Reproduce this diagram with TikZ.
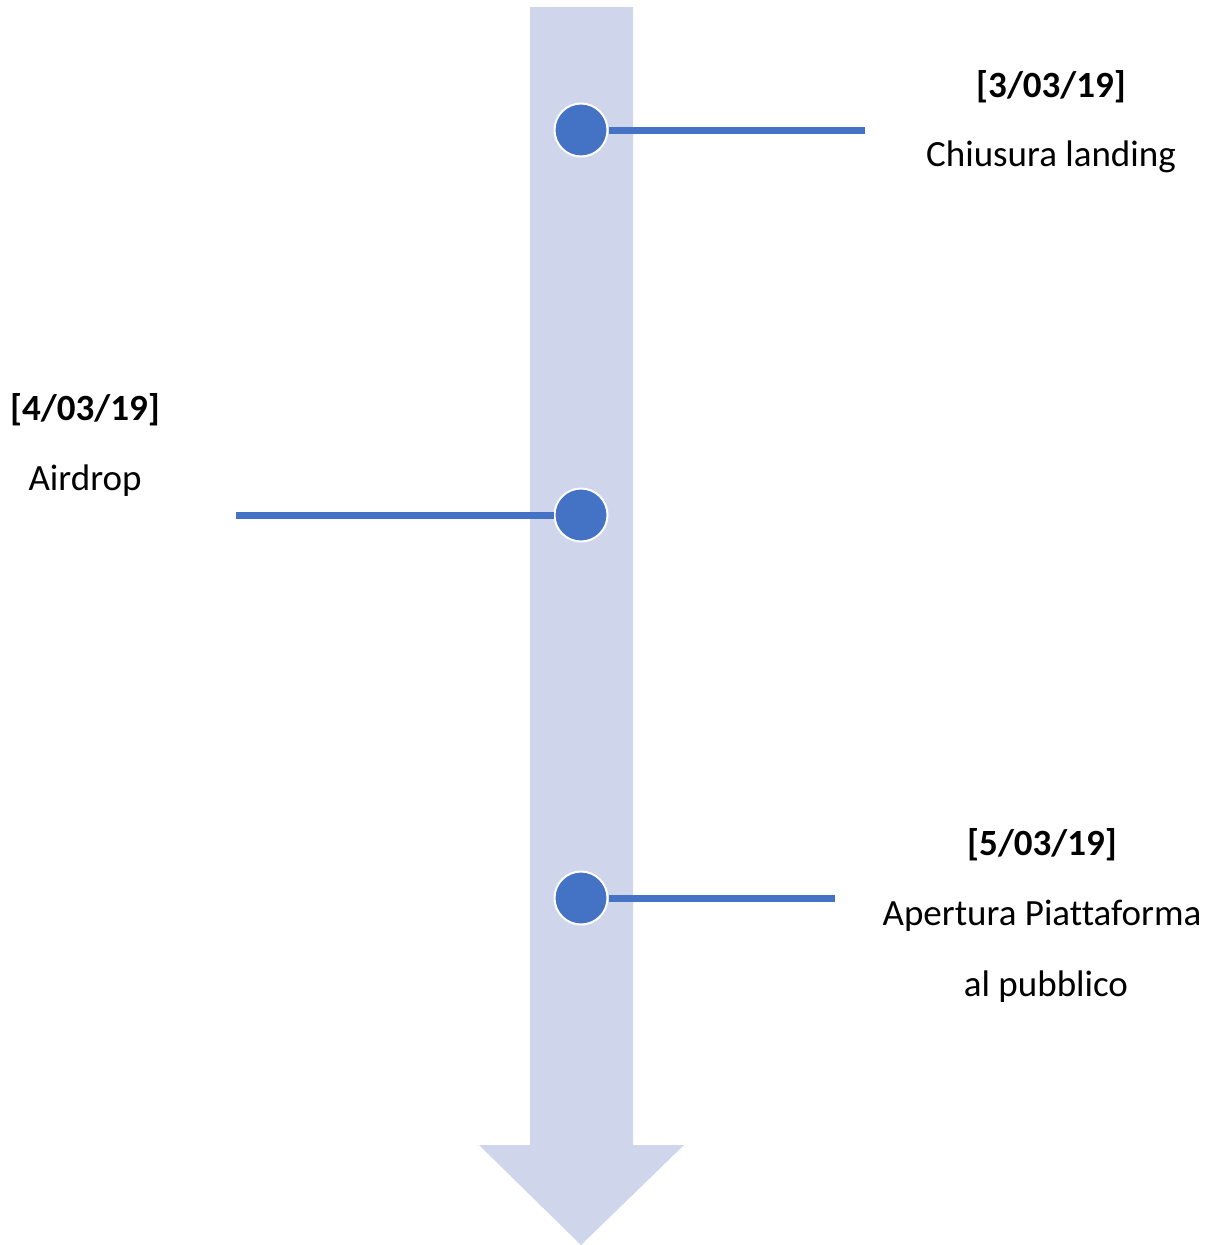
\documentclass[tikz,border=0pt]{standalone}
\usepackage{fontspec}
\setmainfont[Ligatures=NoCommon]{Carlito}
\definecolor{shaft}{HTML}{CFD5EA}
\definecolor{dotblue}{HTML}{4472C4}
\begin{document}
\begin{tikzpicture}[x=1pt,y=-1pt]
  \tikzset{
    event/.style={circle,fill=dotblue,draw=white,line width=2pt,minimum size=53pt,inner sep=0pt},
    stem/.style={draw=dotblue,line width=7pt},
    date/.style={font=\fontsize{37}{44}\selectfont\bfseries},
    what/.style={font=\fontsize{37}{44}\selectfont}
  }
  \useasboundingbox (0,0) rectangle (1216,1245);

  % time axis
  \fill[shaft] (530,7) -- (633,7) -- (633,1145) -- (684,1145) -- (581,1245)
    -- (479,1145) -- (530,1145) -- cycle;

  \coordinate (t1) at (865,130);
  \coordinate (t2) at (236,515);
  \coordinate (t3) at (835,898);

  \node[event] (e1) at (581,130) {};
  \node[event] (e2) at (581,515) {};
  \node[event] (e3) at (581,898) {};

  \draw[stem] (e1) -- (t1);
  \draw[stem] (e2) -- (t2);
  \draw[stem] (e3) -- (t3);

  \node[date] (d1) at (1051,87) {[3/03/19]};
  \node[what] (l1) at (1051,157) {Chiusura landing};

  \node[date] (d2) at (85,410) {[4/03/19]};
  \node[what] (l2) at (85,481) {Airdrop};

  \node[date] (d3) at (1042,845) {[5/03/19]};
  \node[what] (l3) at (1042,916) {Apertura Piattaforma};
  \node[what] (l4) at (1046,987) {al pubblico};
\end{tikzpicture}
\end{document}
